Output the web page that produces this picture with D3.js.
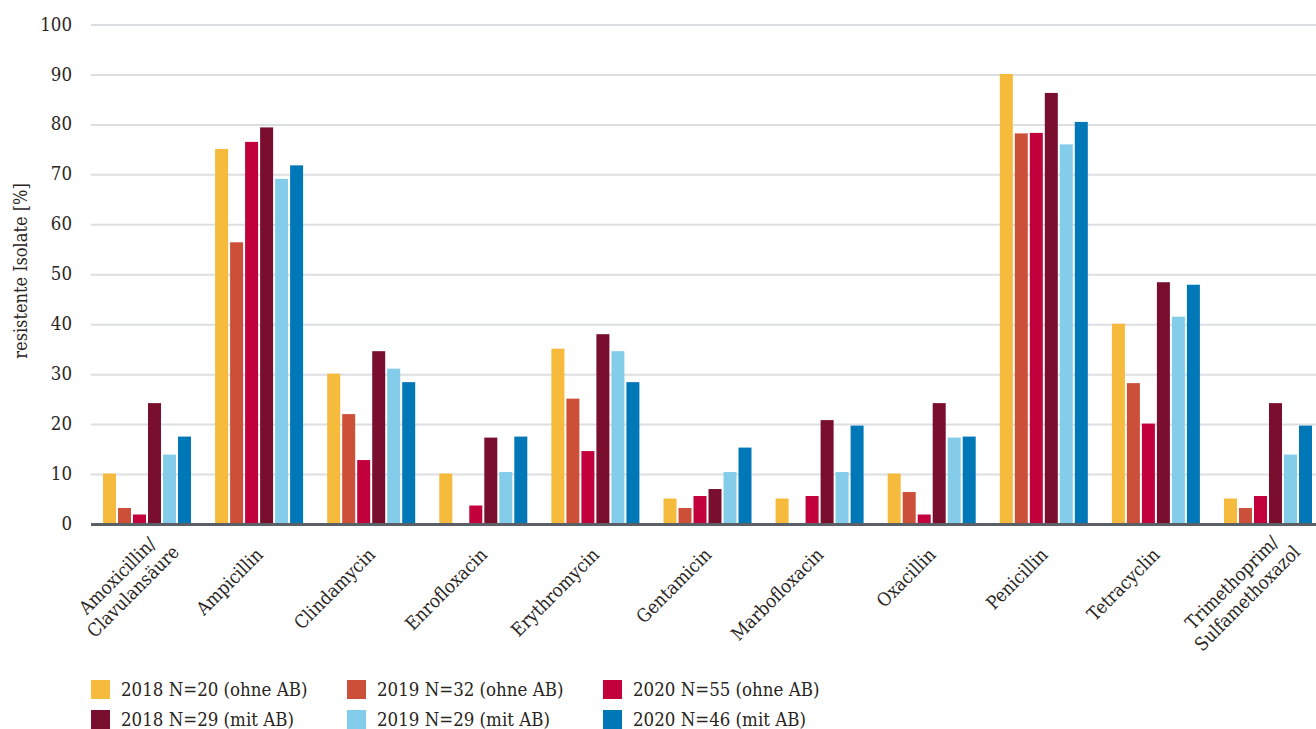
<!DOCTYPE html>
<html>
<head>
<meta charset="utf-8">
<script src="https://cdn.jsdelivr.net/npm/d3@7"></script>
<style>
  body { margin: 0; background: #fff; }
  svg text { font-family: "DejaVu Serif Condensed", "DejaVu Serif", serif; fill: #29251e; }
</style>
</head>
<body>
<div id="chart"></div>
<script>
// antibiotics on the x axis
const categories = [
  ["Amoxicillin/", "Clavulansäure"], ["Ampicillin"], ["Clindamycin"], ["Enrofloxacin"],
  ["Erythromycin"], ["Gentamicin"], ["Marbofloxacin"], ["Oxacillin"], ["Penicillin"],
  ["Tetracyclin"], ["Trimethoprim/", "Sulfamethoxazol"]
];

const seriesNames = [
  "2018 N=20 (ohne AB)", "2019 N=32 (ohne AB)", "2020 N=55 (ohne AB)",
  "2018 N=29 (mit AB)", "2019 N=29 (mit AB)", "2020 N=46 (mit AB)"
];
const seriesColors = ["#f6ba3c", "#cc5038", "#c1003c", "#7a0e2e", "#83cdeb", "#0077b6"];

// resistant isolates in %
const v2018ohne = [10, 75, 30, 10, 35, 5, 5, 10, 90, 40, 5];
const v2019ohne = [3.1, 56.3, 21.9, 0, 25, 3.1, 0, 6.3, 78.1, 28.1, 3.1];
const v2020ohne = [1.8, 76.4, 12.7, 3.6, 14.5, 5.5, 5.5, 1.8, 78.2, 20, 5.5];
const v2018mit = [24.1, 79.3, 34.5, 17.2, 37.9, 6.9, 20.7, 24.1, 86.2, 48.3, 24.1];
const v2019mit = [13.8, 69.0, 31.0, 10.3, 34.5, 10.3, 10.3, 17.2, 75.9, 41.4, 13.8];
const v2020mit = [17.4, 71.7, 28.3, 17.4, 28.3, 15.2, 19.6, 17.4, 80.4, 47.8, 19.6];
const seriesValues = [v2018ohne, v2019ohne, v2020ohne, v2018mit, v2019mit, v2020mit];

const yTicks = [0, 10, 20, 30, 40, 50, 60, 70, 80, 90, 100];
const yTitle = "resistente Isolate [%]";

const W = 1316, H = 729;
const svg = d3.select("#chart").append("svg")
  .attr("width", W).attr("height", H);

const left = 91, step = 112.1;
const x = d3.scaleBand()
  .domain(d3.range(categories.length))
  .range([left, left + step * categories.length]);

const xs = d3.scaleBand()
  .domain(d3.range(seriesNames.length))
  .range([12, 100])
  .paddingInner(2 / 15);

const y = d3.scaleLinear().domain([0, 100]).range([524.5, 25]);

// gridlines
svg.append("g")
  .selectAll("line")
  .data(yTicks.filter(d => d > 0))
  .join("line")
  .attr("x1", left).attr("x2", W)
  .attr("y1", d => y(d)).attr("y2", d => y(d))
  .attr("stroke", "#dcdfe2").attr("stroke-width", 2);

// y tick labels
svg.append("g")
  .selectAll("text")
  .data(yTicks)
  .join("text")
  .attr("x", 72)
  .attr("y", d => y(d))
  .attr("dy", "0.3em")
  .attr("text-anchor", "end")
  .style("font-size", "18.5px")
  .text(d => d);

// y title
svg.append("text")
  .attr("transform", "translate(27,271) rotate(-90)")
  .attr("text-anchor", "middle")
  .style("font-size", "18px")
  .text(yTitle);

// bars
const groups = svg.append("g")
  .selectAll("g")
  .data(categories)
  .join("g")
  .attr("transform", (d, i) => `translate(${x(i)},0)`);

groups.selectAll("rect")
  .data((d, i) => seriesValues.map((vals, s) => ({ s, v: vals[i] })))
  .join("rect")
  .attr("x", d => xs(d.s))
  .attr("width", xs.bandwidth())
  .attr("y", d => y(d.v) - 1)
  .attr("height", d => y(0) - y(d.v) + 1)
  .attr("fill", d => seriesColors[d.s]);

// zero axis line
svg.append("line")
  .attr("x1", left).attr("x2", W)
  .attr("y1", y(0)).attr("y2", y(0))
  .attr("stroke", "#5a6066").attr("stroke-width", 3);

// x labels, rotated
const lineH = 22;
categories.forEach((lines, i) => {
  const cx = x(i) + x.bandwidth() / 2;
  const t = svg.append("text")
    .attr("transform", `translate(${cx + 5},556) rotate(-45)`)
    .style("font-size", "18.5px")
    .attr("text-anchor", "end");
  const spans = lines.map((ln, k) => t.append("tspan")
    .attr("x", 0)
    .attr("y", lines.length > 1 ? (k === 0 ? -4 : -4 + lineH) : 0)
    .text(ln));
  if (lines.length > 1) {
    const lens = spans.map(s => s.node().getComputedTextLength());
    const maxL = d3.max(lens);
    spans.forEach((s, k) => s.attr("x", 22 - (maxL - lens[k]) / 2));
  }
});

// legend
const legend = svg.append("g")
  .selectAll("g")
  .data(seriesNames)
  .join("g")
  .attr("transform", (d, i) => `translate(${91 + (i % 3) * 256},${680 + Math.floor(i / 3) * 30})`);

legend.append("rect")
  .attr("width", 19).attr("height", 19)
  .attr("fill", (d, i) => seriesColors[i]);

legend.append("text")
  .attr("x", 30).attr("y", 16)
  .style("font-size", "18.5px")
  .text(d => d);
</script>
</body>
</html>
